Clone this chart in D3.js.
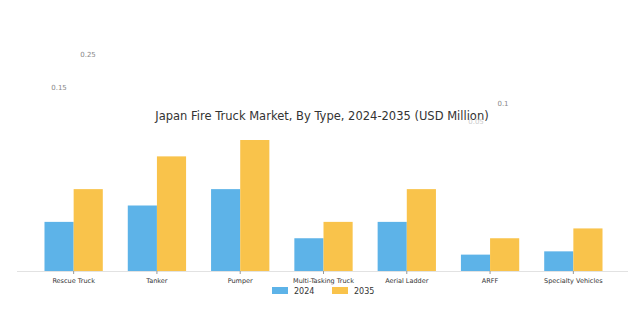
<!DOCTYPE html>
<html><head><meta charset="utf-8">
<script src="https://cdn.jsdelivr.net/npm/d3@7"></script>
<style>body{margin:0;background:#fff;}svg{display:block;font-family:"DejaVu Sans",sans-serif;}</style>
</head><body>
<svg id="c" width="634" height="319"></svg>
<script>
const categories = ["Rescue Truck","Tanker","Pumper","Multi-Tasking Truck","Aerial Ladder","ARFF","Specialty Vehicles"];
const series = ["2024","2035"];
const values2024 = [0.15,0.2,0.25,0.1,0.15,0.05,0.06];
const values2035 = [0.25,0.35,0.4,0.15,0.25,0.1,0.13];
const colors = ["#5DB3E8","#F9C34B"];
const strayLabels = ["0.25","0.15","0.1","0.05"];
const title = "Japan Fire Truck Market, By Type, 2024-2035 (USD Million)";

const svg = d3.select("#c");
const x = d3.scaleBand().domain(categories).range([32,615]).paddingInner(0.3).paddingOuter(0.15);
const x1 = d3.scaleBand().domain(series).range([0,x.bandwidth()]);
const y = d3.scaleLinear().domain([0,0.4]).range([271,140]);

svg.append("line").attr("x1",17).attr("x2",628).attr("y1",271.5).attr("y2",271.5).attr("stroke","#e2e2e2");

const data = categories.map((c,i)=>({c,v:[values2024[i],values2035[i]]}));
const g = svg.selectAll("g.cat").data(data).enter().append("g").attr("transform",d=>`translate(${x(d.c)},0)`);
g.selectAll("rect").data(d=>d.v.map((v,j)=>({s:series[j],v,j}))).enter().append("rect")
  .attr("x",d=>x1(d.s)).attr("width",x1.bandwidth()).attr("y",d=>y(d.v)).attr("height",d=>y(0)-y(d.v))
  .attr("fill",d=>colors[d.j]);

const ax = svg.append("g").attr("transform","translate(0,271)").call(d3.axisBottom(x).tickSize(3).tickSizeOuter(0));
ax.select(".domain").remove();
ax.selectAll("line").attr("stroke","#999");
ax.selectAll("text").attr("font-size","6.5px").attr("fill","#333").attr("dy","0.9em").attr("font-family","DejaVu Sans");

svg.append("text").attr("x",322).attr("y",120).attr("text-anchor","middle").attr("font-size","11.5px").attr("fill","#333").text(title);

const strayPos = [[88,57],[59,90],[503,106],[476,124]];
svg.selectAll("text.stray").data(strayLabels).enter().append("text").attr("class","stray")
  .attr("x",(d,i)=>strayPos[i][0]).attr("y",(d,i)=>strayPos[i][1]).attr("text-anchor","middle")
  .attr("font-size","7px").attr("fill",(d,i)=>i===3?"#ccc":"#888").text(d=>d);

const lg = svg.append("g").attr("transform","translate(272,287)");
series.forEach((s,i)=>{
  const gg = lg.append("g").attr("transform",`translate(${i*60},0)`);
  gg.append("rect").attr("width",16).attr("height",7).attr("fill",colors[i]);
  gg.append("text").attr("x",22).attr("y",7).attr("font-size","8px").attr("fill","#333").text(s);
});
</script>
</body></html>
